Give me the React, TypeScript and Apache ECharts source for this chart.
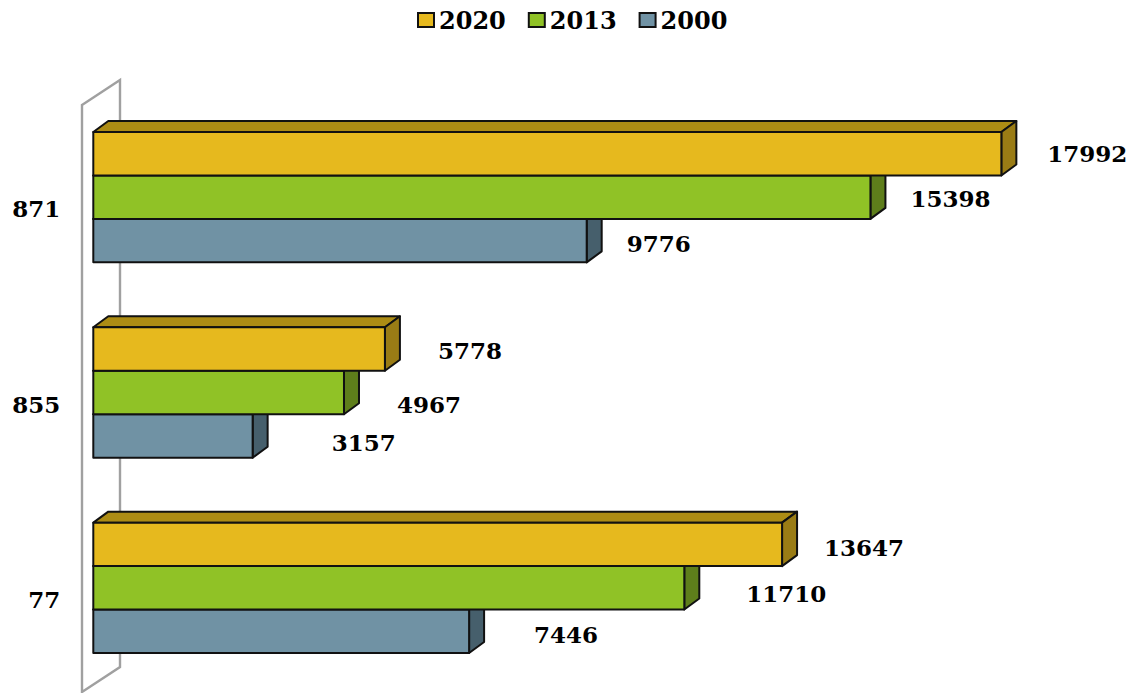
import React, { useEffect, useRef } from "react";
import * as echarts from "echarts";

const categories = ["77", "855", "871"];
const years = ["2020", "2013", "2000"];
const values2020 = [13647, 5778, 17992];
const values2013 = [11710, 4967, 15398];
const values2000 = [7446, 3157, 9776];

const seriesValues = [values2020, values2013, values2000];
const frontColors = ["#E6B91E", "#90C226", "#7092A4"];
const topColors = ["#AD8C14", "#6E941D", "#54707E"];
const sideColors = ["#9A7C15", "#5E7E1B", "#465F6C"];
// label placement per series, per category: [dx from bar end, dy from bar centre]
const labelOffsets = [
  [[42, 3], [53, 1], [46, 0]],
  [[62, 6], [53, 12], [40, 1]],
  [[65, 3], [79, 7], [40, 3]],
];

const FONT = '"DejaVu Serif", "Liberation Serif", serif';
const DX = 15;
const DY = -11;

function makeRender(si: number) {
  return (params: any, api: any) => {
    const v = api.value(0);
    const c = api.value(1);
    const band = api.size([0, 1])[1];
    const h = band * 0.2225;
    const [x1, cy] = api.coord([v, c]);
    const [x0] = api.coord([0, c]);
    const yc = cy + (si - 1) * h;
    const top = yc - h / 2;
    const bot = yc + h / 2;
    const stroke = { stroke: "#111", lineWidth: 2, lineJoin: "round" };
    const off = labelOffsets[si][c];
    return {
      type: "group",
      children: [
        {
          type: "polygon",
          shape: { points: [[x0, top], [x0 + DX, top + DY], [x1 + DX, top + DY], [x1, top]] },
          style: { fill: topColors[si], ...stroke },
        },
        {
          type: "polygon",
          shape: { points: [[x1, top], [x1 + DX, top + DY], [x1 + DX, bot + DY], [x1, bot]] },
          style: { fill: sideColors[si], ...stroke },
        },
        {
          type: "rect",
          shape: { x: x0, y: top, width: x1 - x0, height: h },
          style: { fill: frontColors[si], ...stroke },
        },
        {
          type: "text",
          style: {
            text: String(v),
            x: x1 + off[0],
            y: yc + off[1],
            align: "left",
            verticalAlign: "middle",
            fill: "#000",
            font: `bold 23px ${FONT}`,
          },
        },
      ],
    };
  };
}

export default function App() {
  const ref = useRef<HTMLDivElement>(null);
  useEffect(() => {
    const chart = echarts.init(ref.current!, null, { renderer: "svg" });
    chart.setOption({
      animation: false,
      backgroundColor: "#fff",
      legend: {
        top: 3,
        left: 412,
        itemWidth: 16,
        itemHeight: 14,
        itemGap: 22,
        textStyle: { fontFamily: FONT, fontWeight: "bold", fontSize: 24, color: "#000" },
        data: years.map((name, i) => ({
          name,
          icon: "rect",
          itemStyle: { color: frontColors[i], borderColor: "#111", borderWidth: 2 },
        })),
      },
      grid: { left: 93.3, top: 99.5, width: 1009.4, height: 586 },
      xAxis: { type: "value", min: 0, max: 20000, show: false },
      yAxis: {
        type: "category",
        data: categories,
        axisLine: { show: false },
        axisTick: { show: false },
        axisLabel: {
          margin: 33,
          verticalAlign: "top",
          fontFamily: FONT,
          fontWeight: "bold",
          fontSize: 23,
          color: "#000",
        },
      },
      graphic: [
        {
          type: "polygon",
          z: 0,
          shape: { points: [[82, 105], [120, 80], [120, 667], [82, 692]] },
          style: { fill: "#fff", stroke: "#A0A0A0", lineWidth: 2.4 },
        },
      ],
      series: years.map((name, si) => ({
        name,
        type: "custom",
        z: 10 - si,
        encode: { x: 0, y: 1 },
        data: seriesValues[si].map((v, c) => [v, c]),
        itemStyle: { color: frontColors[si] },
        renderItem: makeRender(si),
      })),
    });
    return () => chart.dispose();
  }, []);
  return <div ref={ref} style={{ position: "absolute", left: 0, top: 0, width: 1134, height: 693 }} />;
}
